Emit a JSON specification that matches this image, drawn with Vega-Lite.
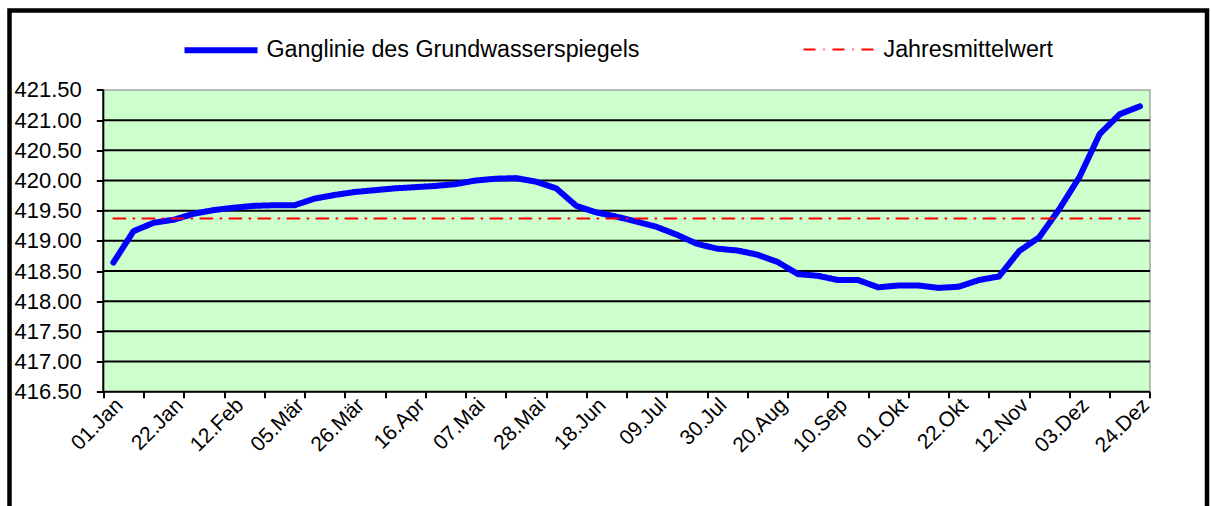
{
  "$schema": "https://vega.github.io/schema/vega-lite/v6.json",
  "width": 1197.5,
  "height": 498.5,
  "autosize": {"type": "none"},
  "padding": {"left": 9.5, "top": 10.5, "right": 4, "bottom": -3},
  "background": "white",
  "config": {
    "view": {"stroke": "#000000", "strokeWidth": 4.5},
    "font": "Liberation Sans",
    "legend": {
      "orient": "none",
      "legendX": 172,
      "legendY": 0,
      "direction": "horizontal",
      "symbolType": "stroke",
      "symbolSize": 5329,
      "labelFontSize": 23.3,
      "labelColor": "#000000",
      "labelOffset": 6,
      "labelLimit": 1000,
      "columnPadding": 160,
      "padding": 0
    }
  },
  "datasets": {
    "ganglinie": [
      {"i": 0, "tag": "01.Jan", "pegel": 418.64, "mittel": 419.37},
      {"i": 1, "tag": "08.Jan", "pegel": 419.16, "mittel": 419.37},
      {"i": 2, "tag": "15.Jan", "pegel": 419.30, "mittel": 419.37},
      {"i": 3, "tag": "22.Jan", "pegel": 419.35, "mittel": 419.37},
      {"i": 4, "tag": "29.Jan", "pegel": 419.45, "mittel": 419.37},
      {"i": 5, "tag": "05.Feb", "pegel": 419.51, "mittel": 419.37},
      {"i": 6, "tag": "12.Feb", "pegel": 419.55, "mittel": 419.37},
      {"i": 7, "tag": "19.Feb", "pegel": 419.58, "mittel": 419.37},
      {"i": 8, "tag": "26.Feb", "pegel": 419.59, "mittel": 419.37},
      {"i": 9, "tag": "05.Mär", "pegel": 419.59, "mittel": 419.37},
      {"i": 10, "tag": "12.Mär", "pegel": 419.70, "mittel": 419.37},
      {"i": 11, "tag": "19.Mär", "pegel": 419.76, "mittel": 419.37},
      {"i": 12, "tag": "26.Mär", "pegel": 419.81, "mittel": 419.37},
      {"i": 13, "tag": "02.Apr", "pegel": 419.84, "mittel": 419.37},
      {"i": 14, "tag": "09.Apr", "pegel": 419.87, "mittel": 419.37},
      {"i": 15, "tag": "16.Apr", "pegel": 419.89, "mittel": 419.37},
      {"i": 16, "tag": "23.Apr", "pegel": 419.91, "mittel": 419.37},
      {"i": 17, "tag": "30.Apr", "pegel": 419.94, "mittel": 419.37},
      {"i": 18, "tag": "07.Mai", "pegel": 420.00, "mittel": 419.37},
      {"i": 19, "tag": "14.Mai", "pegel": 420.03, "mittel": 419.37},
      {"i": 20, "tag": "21.Mai", "pegel": 420.04, "mittel": 419.37},
      {"i": 21, "tag": "28.Mai", "pegel": 419.98, "mittel": 419.37},
      {"i": 22, "tag": "04.Jun", "pegel": 419.87, "mittel": 419.37},
      {"i": 23, "tag": "11.Jun", "pegel": 419.58, "mittel": 419.37},
      {"i": 24, "tag": "18.Jun", "pegel": 419.47, "mittel": 419.37},
      {"i": 25, "tag": "25.Jun", "pegel": 419.40, "mittel": 419.37},
      {"i": 26, "tag": "02.Jul", "pegel": 419.32, "mittel": 419.37},
      {"i": 27, "tag": "09.Jul", "pegel": 419.23, "mittel": 419.37},
      {"i": 28, "tag": "16.Jul", "pegel": 419.10, "mittel": 419.37},
      {"i": 29, "tag": "23.Jul", "pegel": 418.95, "mittel": 419.37},
      {"i": 30, "tag": "30.Jul", "pegel": 418.87, "mittel": 419.37},
      {"i": 31, "tag": "06.Aug", "pegel": 418.84, "mittel": 419.37},
      {"i": 32, "tag": "13.Aug", "pegel": 418.77, "mittel": 419.37},
      {"i": 33, "tag": "20.Aug", "pegel": 418.65, "mittel": 419.37},
      {"i": 34, "tag": "27.Aug", "pegel": 418.45, "mittel": 419.37},
      {"i": 35, "tag": "03.Sep", "pegel": 418.42, "mittel": 419.37},
      {"i": 36, "tag": "10.Sep", "pegel": 418.35, "mittel": 419.37},
      {"i": 37, "tag": "17.Sep", "pegel": 418.35, "mittel": 419.37},
      {"i": 38, "tag": "24.Sep", "pegel": 418.23, "mittel": 419.37},
      {"i": 39, "tag": "01.Okt", "pegel": 418.26, "mittel": 419.37},
      {"i": 40, "tag": "08.Okt", "pegel": 418.26, "mittel": 419.37},
      {"i": 41, "tag": "15.Okt", "pegel": 418.22, "mittel": 419.37},
      {"i": 42, "tag": "22.Okt", "pegel": 418.24, "mittel": 419.37},
      {"i": 43, "tag": "29.Okt", "pegel": 418.35, "mittel": 419.37},
      {"i": 44, "tag": "05.Nov", "pegel": 418.41, "mittel": 419.37},
      {"i": 45, "tag": "12.Nov", "pegel": 418.83, "mittel": 419.37},
      {"i": 46, "tag": "19.Nov", "pegel": 419.06, "mittel": 419.37},
      {"i": 47, "tag": "26.Nov", "pegel": 419.53, "mittel": 419.37},
      {"i": 48, "tag": "03.Dez", "pegel": 420.06, "mittel": 419.37},
      {"i": 49, "tag": "10.Dez", "pegel": 420.77, "mittel": 419.37},
      {"i": 50, "tag": "17.Dez", "pegel": 421.10, "mittel": 419.37},
      {"i": 51, "tag": "24.Dez", "pegel": 421.23, "mittel": 419.37}
    ],
    "raster": [
      {"wert": 416.5}, {"wert": 417.0}, {"wert": 417.5}, {"wert": 418.0}, {"wert": 418.5},
      {"wert": 419.0}, {"wert": 419.5}, {"wert": 420.0}, {"wert": 420.5}, {"wert": 421.0}
    ]
  },
  "layer": [
    {
      "data": {"values": [{}]},
      "mark": {"type": "rect", "fill": "#ccffcc", "stroke": "#a6a6a6", "strokeWidth": 1.5},
      "encoding": {
        "x": {
          "datum": -0.5, "type": "quantitative", "title": null,
          "scale": {"domain": [-5.16, 54.332], "nice": false, "zero": false},
          "axis": {
            "values": [-0.5, 0.5, 1.5, 2.5, 3.5, 4.5, 5.5, 6.5, 7.5, 8.5, 9.5, 10.5, 11.5, 12.5, 13.5, 14.5, 15.5, 16.5, 17.5, 18.5, 19.5, 20.5, 21.5, 22.5, 23.5, 24.5, 25.5, 26.5, 27.5, 28.5, 29.5, 30.5, 31.5, 32.5, 33.5, 34.5, 35.5, 36.5, 37.5, 38.5, 39.5, 40.5, 41.5, 42.5, 43.5, 44.5, 45.5, 46.5, 47.5, 48.5, 49.5, 50.5, 51.5],
            "labels": false, "domain": false, "grid": false,
            "ticks": true, "tickSize": 6, "tickWidth": 2, "tickColor": "#000000",
            "offset": -117.3, "title": null, "zindex": 1
          }
        },
        "x2": {"datum": 51.5},
        "y": {
          "datum": 416.5, "type": "quantitative", "title": null,
          "scale": {"domain": [414.556, 422.8175], "nice": false, "zero": false},
          "axis": {
            "values": [416.5, 417.0, 417.5, 418.0, 418.5, 419.0, 419.5, 420.0, 420.5, 421.0, 421.5],
            "format": ".2f", "domain": false, "grid": false,
            "ticks": true, "tickSize": 7, "tickWidth": 2, "tickColor": "#000000",
            "labelFontSize": 22, "labelColor": "#000000", "labelPadding": 15, "labelFont": "Liberation Sans",
            "offset": -93.8, "title": null, "zindex": 1
          }
        },
        "y2": {"datum": 421.5}
      }
    },
    {
      "data": {"name": "raster"},
      "mark": {"type": "rule", "color": "#000000", "strokeWidth": 2},
      "encoding": {
        "x": {"datum": -0.5, "type": "quantitative", "title": null, "scale": {"domain": [-5.16, 54.332], "nice": false, "zero": false}},
        "x2": {"datum": 51.5},
        "y": {"field": "wert", "type": "quantitative", "title": null, "scale": {"domain": [414.556, 422.8175], "nice": false, "zero": false}}
      }
    },
    {
      "data": {"values": [{}]},
      "mark": {"type": "rule", "color": "#000000", "strokeWidth": 2},
      "encoding": {
        "x": {"datum": -0.5, "type": "quantitative", "title": null, "scale": {"domain": [-5.16, 54.332], "nice": false, "zero": false}},
        "y": {"datum": 416.5, "type": "quantitative", "title": null, "scale": {"domain": [414.556, 422.8175], "nice": false, "zero": false}},
        "y2": {"datum": 421.5}
      }
    },
    {
      "data": {"name": "ganglinie"},
      "transform": [{"fold": ["pegel", "mittel"], "as": ["reihe", "wert"]}],
      "mark": {"type": "line", "strokeCap": "round", "strokeJoin": "round"},
      "encoding": {
        "x": {"field": "i", "type": "quantitative", "title": null, "scale": {"domain": [-5.16, 54.332], "nice": false, "zero": false}},
        "y": {"field": "wert", "type": "quantitative", "title": null, "scale": {"domain": [414.556, 422.8175], "nice": false, "zero": false}},
        "color": {
          "field": "reihe", "type": "nominal",
          "scale": {"domain": ["pegel", "mittel"], "range": ["#0000ff", "#ff0000"]},
          "legend": {"title": null, "labelExpr": "datum.value == 'pegel' ? 'Ganglinie des Grundwasserspiegels' : 'Jahresmittelwert'"}
        },
        "strokeDash": {
          "field": "reihe", "type": "nominal",
          "scale": {"domain": ["pegel", "mittel"], "range": [[1, 0], [12, 8, 1, 8]]},
          "legend": {"title": null, "labelExpr": "datum.value == 'pegel' ? 'Ganglinie des Grundwasserspiegels' : 'Jahresmittelwert'"}
        },
        "strokeWidth": {
          "field": "reihe", "type": "nominal",
          "scale": {"domain": ["pegel", "mittel"], "range": [6, 2]},
          "legend": {"title": null, "labelExpr": "datum.value == 'pegel' ? 'Ganglinie des Grundwasserspiegels' : 'Jahresmittelwert'"}
        }
      }
    },
    {
      "data": {"name": "ganglinie"},
      "transform": [{"filter": "datum.i % 3 == 0"}],
      "mark": {"type": "text", "angle": -45, "align": "right", "baseline": "middle", "fontSize": 21, "color": "#000000", "dx": -3, "dy": 12},
      "encoding": {
        "x": {"field": "i", "type": "quantitative", "title": null, "scale": {"domain": [-5.16, 54.332], "nice": false, "zero": false}},
        "y": {"datum": 416.5, "type": "quantitative", "title": null, "scale": {"domain": [414.556, 422.8175], "nice": false, "zero": false}},
        "text": {"field": "tag"}
      }
    }
  ]
}
